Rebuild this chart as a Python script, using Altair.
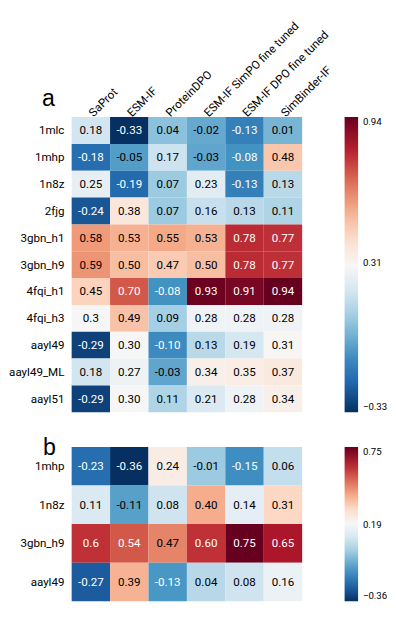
import altair as alt
import pandas as pd

FONT = "Roboto"

methods = ["SaProt", "ESM-IF", "ProteinDPO", "ESM-IF SimPO fine tuned",
           "ESM-IF DPO fine tuned", "SimBinder-IF"]

# ---- panel a ----
rows_a = ["1mlc", "1mhp", "1n8z", "2fjg", "3gbn_h1", "3gbn_h9", "4fqi_h1",
          "4fqi_h3", "aayl49", "aayl49_ML", "aayl51"]
saprot_a = ["0.18", "-0.18", "0.25", "-0.24", "0.58", "0.59", "0.45", "0.3", "-0.29", "0.18", "-0.29"]
esmif_a = ["-0.33", "-0.05", "-0.19", "0.38", "0.53", "0.50", "0.70", "0.49", "0.30", "0.27", "0.30"]
proteindpo_a = ["0.04", "0.17", "0.07", "0.07", "0.55", "0.47", "-0.08", "0.09", "-0.10", "-0.03", "0.11"]
simpo_a = ["-0.02", "-0.03", "0.23", "0.16", "0.53", "0.50", "0.93", "0.28", "0.13", "0.34", "0.21"]
dpo_a = ["-0.13", "-0.08", "-0.13", "0.13", "0.78", "0.78", "0.91", "0.28", "0.19", "0.35", "0.28"]
simbinder_a = ["0.01", "0.48", "0.13", "0.11", "0.77", "0.77", "0.94", "0.28", "0.31", "0.37", "0.34"]
cbar_ticks_a = [-0.33, 0.31, 0.94]

# ---- panel b ----
rows_b = ["1mhp", "1n8z", "3gbn_h9", "aayl49"]
saprot_b = ["-0.23", "0.11", "0.6", "-0.27"]
esmif_b = ["-0.36", "-0.11", "0.54", "0.39"]
proteindpo_b = ["0.24", "0.08", "0.47", "-0.13"]
simpo_b = ["-0.01", "0.40", "0.60", "0.04"]
dpo_b = ["-0.15", "0.14", "0.75", "0.08"]
simbinder_b = ["0.06", "0.31", "0.65", "0.16"]
cbar_ticks_b = [-0.36, 0.19, 0.75]

# RdBu (reversed: blue low -> red high)
RDBU_R = ["#053061", "#2166ac", "#4393c3", "#92c5de", "#d1e5f0", "#f7f7f7",
          "#fddbc7", "#f4a582", "#d6604d", "#b2182b", "#67001f"]


def frame(rows, cols):
    recs = []
    for m, col in zip(methods, cols):
        for r, s in zip(rows, col):
            recs.append({"method": m, "target": r, "label": s, "value": float(s)})
    return pd.DataFrame(recs)


def panel(df, rows, letter, height, ticks, letter_x, letter_y, show_x):
    mn = float(df["value"].min())
    mx = float(df["value"].max())
    n = len(RDBU_R)
    stops = [mn + (mx - mn) * i / (n - 1) for i in range(n)]
    if show_x:
        xaxis = alt.Axis(orient="top", labelAngle=-45, labelAlign="left",
                         labelBaseline="middle", labelFontSize=12, labelFont=FONT,
                         labelColor="black", domain=False, ticks=False,
                         labelPadding=3, title=None)
    else:
        xaxis = None
    x = alt.X("method:N", sort=methods, title=None, axis=xaxis,
              scale=alt.Scale(paddingInner=0, paddingOuter=0))
    y = alt.Y("target:N", sort=rows, title=None,
              scale=alt.Scale(paddingInner=0, paddingOuter=0),
              axis=alt.Axis(labelFontSize=12, labelFont=FONT, labelColor="black",
                            domain=False, ticks=False, labelPadding=8, title=None))
    base = alt.Chart(df).encode(x=x, y=y)
    rect = base.mark_rect(strokeWidth=0).encode(
        color=alt.Color(
            "value:Q",
            scale=alt.Scale(domain=stops, range=RDBU_R, interpolate="rgb"),
            legend=alt.Legend(
                title=None, orient="right", gradientLength=height,
                gradientThickness=14, gradientStrokeWidth=0, values=ticks,
                labelBaseline="middle", labelFontSize=10, labelFont=FONT,
                labelColor="black", labelOffset=5, offset=44, format=".2f",
                labelOverlap=False,
            ),
        )
    )
    text = base.transform_calculate(
        norm=f"(datum.value - ({mn})) / ({mx - mn})"
    ).mark_text(fontSize=12, font=FONT).encode(
        text="label:N",
        color=alt.condition("datum.norm < 0.215 || datum.norm > 0.78",
                            alt.value("white"), alt.value("black")),
    )
    lab = alt.Chart(pd.DataFrame({"t": [letter]})).mark_text(
        fontSize=24, font="Liberation Sans", align="center", baseline="alphabetic",
        color="black"
    ).encode(text="t:N", x=alt.value(letter_x), y=alt.value(letter_y))
    return alt.layer(rect, text, lab).properties(width=239, height=height)


df_a = frame(rows_a, [saprot_a, esmif_a, proteindpo_a, simpo_a, dpo_a, simbinder_a])
df_b = frame(rows_b, [saprot_b, esmif_b, proteindpo_b, simpo_b, dpo_b, simbinder_b])

chart_a = panel(df_a, rows_a, "a", 306, cbar_ticks_a, -24, -12, True)
chart_b = panel(df_b, rows_b, "b", 160, cbar_ticks_b, -23, 8, False)

chart = alt.vconcat(chart_a, chart_b, spacing=25, padding=0).resolve_scale(
    color="independent"
).configure_view(stroke=None)

chart.save("out.html", embed_options={"renderer": "svg", "actions": False})
